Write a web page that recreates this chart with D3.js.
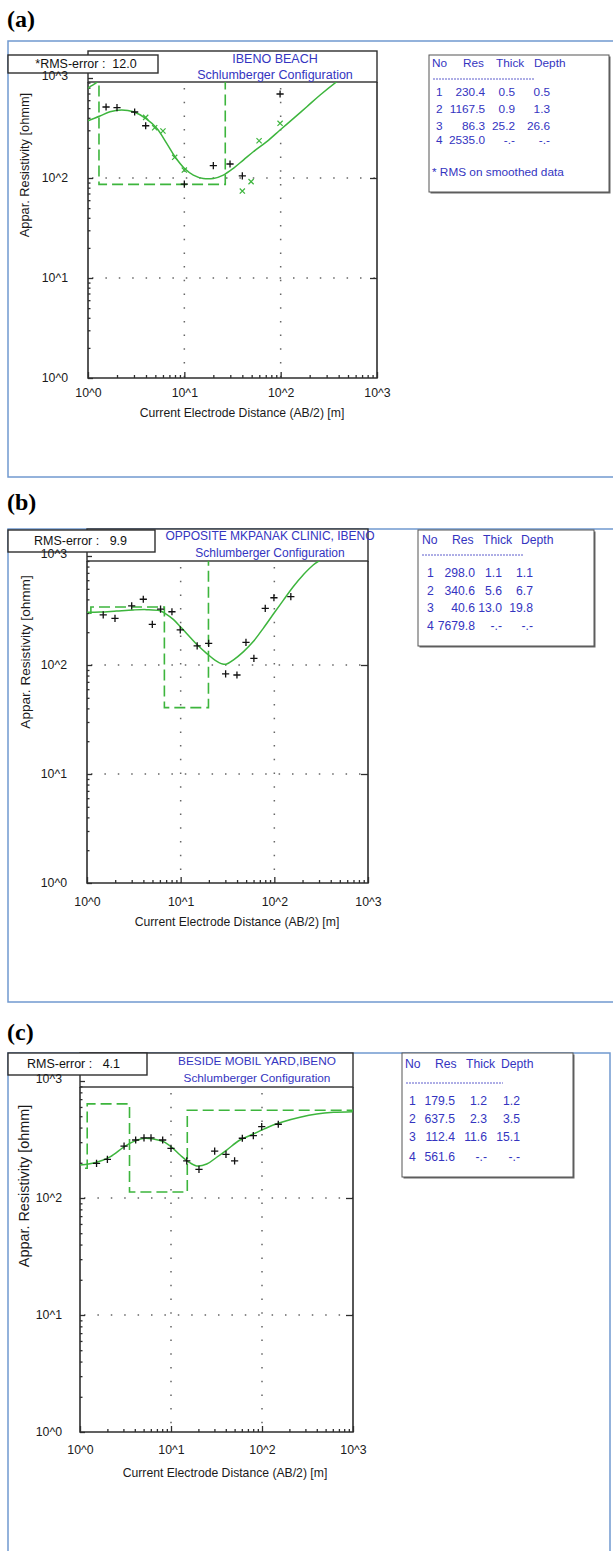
<!DOCTYPE html>
<html>
<head>
<meta charset="utf-8">
<script src="https://cdn.jsdelivr.net/npm/d3@7"></script>
<style>
  body { margin: 0; background: #fff; }
  svg { display: block; }
  text { font-family: "Liberation Sans", Arial, sans-serif; white-space: pre; }
</style>
</head>
<body>
<svg width="613" height="1551"></svg>
<script>
// shared axis stuff
const decades = [1, 10, 100, 1000];
const decadeLabels = ["10^0", "10^1", "10^2", "10^3"];
const xTitle = "Current Electrode Distance (AB/2) [m]";
const yTitle = "Appar. Resistivity [ohmm]";
const tableHead = ["No", "Res", "Thick", "Depth"];
const config = "Schlumberger Configuration";

// (a) IBENO BEACH
const aTitle = "IBENO BEACH";
const aRms = "*RMS-error :  12.0";
const aNote = "* RMS on smoothed data";
const aRes = [230.4, 1167.5, 86.3, 2535.0];
const aThick = [0.5, 0.9, 25.2, null];
const aDepth = [0.5, 1.3, 26.6, null];
const aFieldX = [1.54, 2.0, 3.05, 3.97, 10, 20, 29.8, 40, 98.6];
const aFieldY = [513, 505, 457, 333, 87, 133, 138, 105, 692];
const aSmoothX = [3.97, 4.92, 6.0, 7.94, 10, 40, 49.3, 59.7, 98.6];
const aSmoothY = [404, 318, 295, 161, 120, 74, 92, 236, 352];
const aCurveX = [1.0, 1.33, 1.69, 2.24, 2.96, 3.97, 5.17, 6.56, 8.0, 10, 12.4, 15.7, 20, 25.4, 32.3, 41, 52, 71.7, 98.6, 136, 187, 257, 382, 448];
const aCurveY = [374, 417, 460, 479, 460, 395, 314, 222, 163, 125, 107, 99, 99, 107, 125, 151, 183, 231, 302, 395, 516, 676, 919, 1030];
const aEdgeX = [1.0, 1.09, 1.23, 1.33];
const aEdgeY = [789, 838, 905, 1000];

// (b) OPPOSITE MKPANAK CLINIC
const bTitle = "OPPOSITE MKPANAK CLINIC, IBENO";
const bRms = "RMS-error :   9.9";
const bRes = [298.0, 340.6, 40.6, 7679.8];
const bThick = [1.1, 5.6, 13.0, null];
const bDepth = [1.1, 6.7, 19.8, null];
const bFieldX = [1.49, 1.99, 3.0, 3.99, 4.98, 6.1, 8.07, 9.9, 15, 19.9, 30.2, 39.9, 49.8, 60.5, 80, 99, 150];
const bFieldY = [288, 268, 348, 401, 236, 326, 308, 210, 150, 158, 83, 81, 161, 115, 331, 414, 424];
const bCurveX = [1.0, 1.38, 2.07, 3.12, 4.33, 6.01, 6.8, 8.34, 10.3, 12.6, 15.4, 18.9, 23.2, 28.1, 31, 36.4, 46.6, 59.6, 76.2, 99, 125, 159, 203, 260, 333, 376];
const bCurveY = [304, 306, 313, 320, 322, 315, 298, 262, 217, 180, 150, 128, 111, 102, 102, 111, 132, 164, 217, 298, 394, 523, 670, 827, 953, 1021];

// (c) BESIDE MOBIL YARD
const cTitle = "BESIDE MOBIL YARD,IBENO";
const cRms = "RMS-error :   4.1";
const cRes = [179.5, 637.5, 112.4, 561.6];
const cThick = [1.2, 2.3, 11.6, null];
const cDepth = [1.2, 3.5, 15.1, null];
const cFieldX = [1.52, 2.0, 3.05, 4.09, 5.05, 6.03, 8.1, 10, 14.9, 20.3, 30.2, 40.2, 50, 60.8, 80.3, 99.3, 151];
const cFieldY = [198, 214, 278, 313, 327, 327, 313, 266, 208, 176, 252, 236, 208, 324, 341, 407, 427];
const cCurveX = [1.0, 1.52, 2.14, 3.05, 3.85, 4.97, 6.39, 8.24, 10.2, 12.6, 15.5, 19.1, 24.7, 31.8, 40.9, 57.3, 80.3, 99.3, 133, 171, 262, 399, 608, 993];
const cCurveY = [191, 202, 225, 274, 303, 323, 319, 303, 271, 233, 204, 188, 195, 223, 257, 313, 352, 381, 421, 449, 490, 522, 540, 547];

const green = "#3db53d";
const ink = "#2e2e2e";
const blue = "#3434bf";
const frameBlue = "#7099cf";

const panels = [
  { label: "(a)", labelY: 27, frameTop: 41, frameBottom: 477, frameRight: null,
    headerTop: 51, plotTop: 82, x0: 88, x3: 377, y0: 378, y3: 78,
    rmsBox: [8, 55, 150, 18], rmsDx: 3, titleY: [59, 75], titleX: 275, titleSize: 12.5,
    yTitlePos: [25, 165, 12.8], xTitlePos: [242, 413], xTickPad: 10.7, yTickPad: 20,
    legend: { x: 429, y: 55, w: 180, h: 137, headY: 63, dashY: 79, rowY: [92, 109, 126, 140], noteY: 172,
              head: [3, 34, 67, 105], cols: [7, 56, 86, 121], dash: [4, 106], size: 11.8 },
    title: aTitle, rms: aRms, note: aNote, res: aRes, thick: aThick, depth: aDepth,
    fx: aFieldX, fy: aFieldY, sx: aSmoothX, sy: aSmoothY, cx: aCurveX, cy: aCurveY, ex: aEdgeX, ey: aEdgeY },
  { label: "(b)", labelY: 510, frameTop: 529, frameBottom: 1002, frameRight: null,
    headerTop: 529, plotTop: 561, x0: 87, x3: 368, y0: 883, y3: 556,
    rmsBox: [8, 530, 147, 22], rmsDx: -1, titleY: [536, 553], titleX: 270, titleSize: 12,
    yTitlePos: [25, 652, 13.6], xTitlePos: [237, 922], xTickPad: 14.5, yTickPad: 20,
    legend: { x: 418, y: 530, w: 176, h: 116, headY: 540, dashY: 555, rowY: [573, 591, 608, 626], noteY: null,
              head: [4, 34, 65, 103], cols: [9, 57, 84, 115], dash: [4, 105], size: 12.2 },
    title: bTitle, rms: bRms, note: null, res: bRes, thick: bThick, depth: bDepth,
    fx: bFieldX, fy: bFieldY, sx: [], sy: [], cx: bCurveX, cy: bCurveY, ex: [], ey: [] },
  { label: "(c)", labelY: 1040, frameTop: 1053, frameBottom: 1560, frameRight: 610,
    headerTop: 1053, plotTop: 1087, x0: 80, x3: 353, y0: 1432, y3: 1081,
    rmsBox: [8, 1053, 139, 22], rmsDx: -4, titleY: [1061, 1078], titleX: 257, titleSize: 11.8,
    yTitlePos: [24, 1186, 14.4], xTitlePos: [225, 1473], xTickPad: 13.5, yTickPad: 18,
    legend: { x: 402, y: 1053, w: 171, h: 124, headY: 1064, dashY: 1083, rowY: [1101, 1119, 1137, 1157], noteY: null,
              head: [3, 33, 64, 99], cols: [7, 53, 85, 118], dash: [4, 101], size: 12.2 },
    title: cTitle, rms: cRms, note: null, res: cRes, thick: cThick, depth: cDepth,
    fx: cFieldX, fy: cFieldY, sx: [], sy: [], cx: cCurveX, cy: cCurveY, ex: [], ey: [] }
];

const svg = d3.select("svg");
svg.append("rect").attr("width", 613).attr("height", 1551).attr("fill", "#fff");

// minor log ticks 2..9 x 10^k
const minors = [];
[1, 10, 100].forEach(k => { for (let m = 2; m <= 9; m++) minors.push(k * m); });

// model as step line: x = depth, y = resistivity
function steps(res, depth) {
  const pts = [[0.1, res[0]]];
  depth.forEach((d, i) => {
    if (d != null) { pts.push([d, res[i]]); pts.push([d, res[i + 1]]); }
  });
  pts.push([1000, res[res.length - 1]]);
  return pts;
}

const fmt = v => v == null ? "-.-" : v.toFixed(1);

panels.forEach((p, pi) => {
  const g = svg.append("g");

  // outer blue frame
  const fr = p.frameRight == null ? 640 : p.frameRight;
  g.append("rect").attr("x", 8).attr("y", p.frameTop)
    .attr("width", fr - 8).attr("height", p.frameBottom - p.frameTop)
    .attr("fill", "none").attr("stroke", frameBlue).attr("stroke-width", 1.5);

  g.append("text").attr("x", 7).attr("y", p.labelY)
    .style("font-family", "'Liberation Serif', 'Times New Roman', serif")
    .style("font-weight", "bold").style("font-size", "24px").text(p.label);

  const x = d3.scaleLog().domain([1, 1000]).range([p.x0, p.x3]);
  const y = d3.scaleLog().domain([1, 1000]).range([p.y0, p.y3]);

  // header box with site name
  g.append("rect").attr("x", p.x0).attr("y", p.headerTop)
    .attr("width", p.x3 - p.x0).attr("height", p.plotTop - p.headerTop)
    .attr("fill", "#fff").attr("stroke", ink).attr("stroke-width", 1.4);
  g.append("text").attr("x", p.titleX).attr("y", p.titleY[0]).attr("dy", "0.35em")
    .attr("text-anchor", "middle").attr("fill", blue).style("font-size", p.titleSize + "px").text(p.title);
  g.append("text").attr("x", p.titleX).attr("y", p.titleY[1]).attr("dy", "0.35em")
    .attr("text-anchor", "middle").attr("fill", blue).style("font-size", p.titleSize + "px").text(config);

  // rms box
  const rb = p.rmsBox;
  g.append("rect").attr("x", rb[0]).attr("y", rb[1]).attr("width", rb[2]).attr("height", rb[3])
    .attr("fill", "#fff").attr("stroke", ink).attr("stroke-width", 1.4);
  g.append("text").attr("x", rb[0] + rb[2] / 2 + p.rmsDx).attr("y", rb[1] + rb[3] / 2).attr("dy", "0.35em")
    .attr("text-anchor", "middle").style("font-size", "12.5px").attr("fill", "#111").text(p.rms);

  // dotted grid
  const grid = g.append("g").attr("stroke", "#666").attr("stroke-width", 1.5);
  [10, 100].forEach(v => {
    grid.append("line").attr("x1", p.x0 + 4).attr("x2", p.x3).attr("y1", y(v)).attr("y2", y(v))
      .attr("stroke-dasharray", "1.5 11.9");
    grid.append("line").attr("x1", x(v)).attr("x2", x(v)).attr("y1", p.plotTop + 6).attr("y2", p.y0)
      .attr("stroke-dasharray", "1.5 12.2");
  });

  // ticks
  g.append("g").attr("transform", "translate(0," + p.y0 + ")")
    .call(d3.axisBottom(x).tickValues(decades).tickSize(-6).tickPadding(p.xTickPad)
      .tickFormat((d, i) => decadeLabels[i]));
  g.append("g").attr("transform", "translate(0," + p.y0 + ")")
    .call(d3.axisBottom(x).tickValues(minors).tickSize(-3).tickFormat(""));
  const axY = g.append("g").attr("transform", "translate(" + p.x0 + ",0)")
    .call(d3.axisLeft(y).tickValues(decades).tickSize(-5).tickPadding(p.yTickPad)
      .tickFormat((d, i) => decadeLabels[i]));
  g.append("g").attr("transform", "translate(" + p.x0 + ",0)")
    .call(d3.axisLeft(y).tickValues(minors).tickSize(-2.5).tickFormat(""));
  g.append("g").attr("transform", "translate(" + p.x3 + ",0)")
    .call(d3.axisRight(y).tickValues([10, 100]).tickSize(-7).tickFormat(""));
  g.selectAll(".domain").remove();
  g.selectAll(".tick line").attr("stroke", ink).attr("stroke-width", 1.3);
  g.selectAll(".tick text").style("font-size", "12.3px").style("font-family", "'Liberation Sans', Arial, sans-serif").attr("fill", "#1a1a1a");
  axY.select(".tick:last-of-type text").attr("dy", "0.1em");

  // plot frame
  g.append("path")
    .attr("d", "M" + p.x0 + "," + p.plotTop + "V" + p.y0 + "H" + p.x3 + "V" + p.plotTop)
    .attr("fill", "none").attr("stroke", ink).attr("stroke-width", 1.6);

  // axis titles
  g.append("text").attr("x", p.xTitlePos[0]).attr("y", p.xTitlePos[1]).attr("dy", "0.35em")
    .attr("text-anchor", "middle").style("font-size", "12.2px").attr("fill", "#1a1a1a").text(xTitle);
  g.append("text")
    .attr("transform", "translate(" + p.yTitlePos[0] + "," + p.yTitlePos[1] + ") rotate(-90)")
    .attr("dy", "0.35em").attr("text-anchor", "middle")
    .style("font-size", p.yTitlePos[2] + "px").attr("fill", "#1a1a1a").text(yTitle);

  // clipped data layer
  const clipId = "clip" + pi;
  g.append("clipPath").attr("id", clipId).append("rect")
    .attr("x", p.x0).attr("y", p.plotTop).attr("width", p.x3 - p.x0).attr("height", p.y0 - p.plotTop);
  const data = g.append("g").attr("clip-path", "url(#" + clipId + ")");

  const line = d3.line().x(d => x(d[0])).y(d => y(d[1]));

  data.append("path").datum(steps(p.res, p.depth))
    .attr("d", line).attr("fill", "none").attr("stroke", green)
    .attr("stroke-width", 1.6).attr("stroke-dasharray", "11 5");

  data.append("path").datum(p.cx.map((v, i) => [v, p.cy[i]]))
    .attr("d", line.curve(d3.curveCatmullRom)).attr("fill", "none")
    .attr("stroke", green).attr("stroke-width", 1.5);

  if (p.ex.length) {
    data.append("path").datum(p.ex.map((v, i) => [v, p.ey[i]]))
      .attr("d", line.curve(d3.curveCatmullRom)).attr("fill", "none")
      .attr("stroke", green).attr("stroke-width", 1.5);
  }

  data.selectAll(".sm").data(p.sx.map((v, i) => [v, p.sy[i]])).enter().append("path")
    .attr("class", "sm")
    .attr("transform", d => "translate(" + x(d[0]) + "," + y(d[1]) + ")")
    .attr("d", "M-2.6,-2.6L2.6,2.6M-2.6,2.6L2.6,-2.6")
    .attr("stroke", green).attr("stroke-width", 1.2);

  data.selectAll(".fd").data(p.fx.map((v, i) => [v, p.fy[i]])).enter().append("path")
    .attr("class", "fd")
    .attr("transform", d => "translate(" + x(d[0]) + "," + y(d[1]) + ")")
    .attr("d", "M-3.6,0H3.6M0,-3.6V3.6")
    .attr("stroke", "#111").attr("stroke-width", 1.3);

  // layer table
  const L = p.legend;
  const lg = g.append("g").attr("transform", "translate(" + L.x + "," + L.y + ")");
  lg.append("rect").attr("x", 1.5).attr("y", 1.5).attr("width", L.w).attr("height", L.h).attr("fill", "#666");
  lg.append("rect").attr("width", L.w).attr("height", L.h)
    .attr("fill", "#fff").attr("stroke", "#555").attr("stroke-width", 1);
  const tt = (tx, ty, s, anchor) => lg.append("text").attr("x", tx).attr("y", ty - L.y).attr("dy", "0.35em")
    .attr("text-anchor", anchor || "start").attr("fill", blue).style("font-size", L.size + "px").text(s);
  tableHead.forEach((h, i) => tt(L.head[i], L.headY, h));
  lg.append("line").attr("x1", L.dash[0]).attr("x2", L.dash[1]).attr("y1", L.dashY - L.y).attr("y2", L.dashY - L.y)
    .attr("stroke", blue).attr("stroke-width", 0.8).attr("stroke-dasharray", "2 1");
  p.res.forEach((r, i) => {
    tt(L.cols[0], L.rowY[i], String(i + 1));
    tt(L.cols[1], L.rowY[i], fmt(r), "end");
    tt(L.cols[2], L.rowY[i], fmt(p.thick[i]), "end");
    tt(L.cols[3], L.rowY[i], fmt(p.depth[i]), "end");
  });
  if (p.note) tt(L.cols[0] - 4, L.noteY, p.note);
});
</script>
</body>
</html>
